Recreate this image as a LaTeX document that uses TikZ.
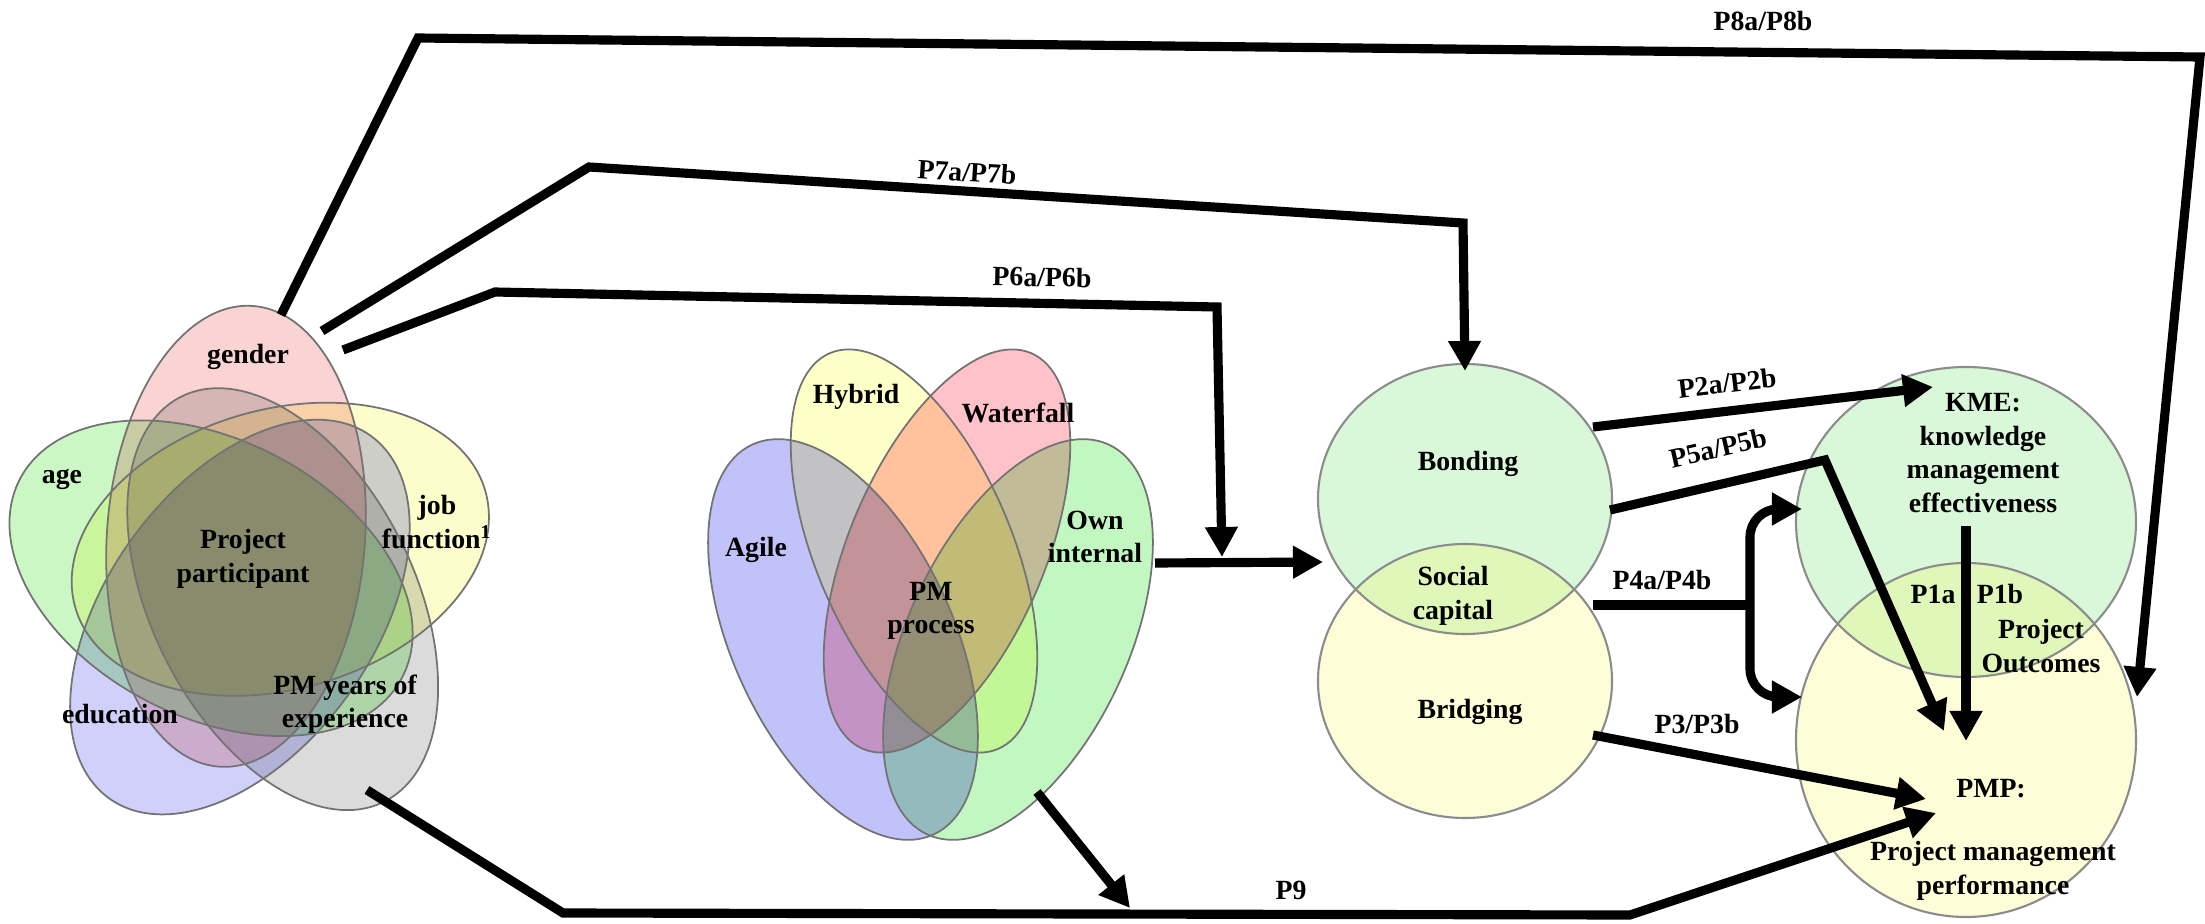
\documentclass[tikz,border=0pt]{standalone}
\usepackage{fontspec}
\setmainfont{Liberation Serif}
\usetikzlibrary{arrows.meta}

\definecolor{genderc}{HTML}{FAD3D3}
\definecolor{agec}{HTML}{CBF7C4}
\definecolor{educ}{HTML}{D0D0FA}
\definecolor{pmyc}{HTML}{DBDBDB}
\definecolor{jobc}{HTML}{FDFDCC}
\definecolor{agilec}{HTML}{C2C2FA}
\definecolor{hybridc}{HTML}{FFFFC8}
\definecolor{waterc}{HTML}{FFC2C8}
\definecolor{ownc}{HTML}{C2F7C2}
\definecolor{greenc}{HTML}{D9F8D9}
\definecolor{yellowc}{HTML}{FDFDD8}
\definecolor{lensc}{HTML}{DFF7B9}

\tikzset{
  link/.style={line width=2.6pt, line join=miter},
  arr/.style={link, -{Triangle[length=0.3cm,width=0.31cm]}},
  lbl/.style={font=\fontsize{7.9}{9.5}\selectfont\bfseries, align=center, inner sep=0pt},
  rim/.style={draw=black!55, line width=0.5pt},
  ring/.style={draw=black!45, line width=0.6pt}
}

\begin{document}
\begin{tikzpicture}[x=0.01cm, y=0.01cm]
  \useasboundingbox (0,0) rectangle (2205,923);

  % project participant
  \begin{scope}[shift={(250,347)}, yscale=1.09]
    \begin{scope}[blend mode=multiply]
      \foreach \ang/\col in {85/genderc, 157/agec, 229/educ, 301/pmyc, 13/jobc}
        \fill[\col, shift={({\ang+26}:39)}, rotate=\ang] (0,0) ellipse [x radius=212, y radius=129];
    \end{scope}
    \foreach \ang in {85, 157, 229, 301, 13}
      \draw[rim, shift={({\ang+26}:39)}, rotate=\ang] (0,0) ellipse [x radius=212, y radius=129];
  \end{scope}

  % PM process
  \begin{scope}[blend mode=multiply]
    \foreach \cx/\cy/\ang/\ra/\rb/\col in {843/283.5/115/215/110/agilec, 1018/283.5/65/215/110/ownc,
        914/372/113/215/98/hybridc, 947/372/67/215/98/waterc}
      \fill[\col, shift={(\cx,\cy)}, rotate=\ang] (0,0) ellipse [x radius=\ra, y radius=\rb];
  \end{scope}
  \foreach \cx/\cy/\ang/\ra/\rb in {843/283.5/115/215/110, 1018/283.5/65/215/110,
      914/372/113/215/98, 947/372/67/215/98}
    \draw[rim, shift={(\cx,\cy)}, rotate=\ang] (0,0) ellipse [x radius=\ra, y radius=\rb];

  % social capital
  \fill[greenc] (1465,424) ellipse [x radius=147, y radius=135];
  \fill[yellowc] (1465,242) ellipse [x radius=147, y radius=137];
  \begin{scope}
    \clip (1465,424) ellipse [x radius=147, y radius=135];
    \fill[lensc] (1465,242) ellipse [x radius=147, y radius=137];
  \end{scope}
  \draw[ring] (1465,424) ellipse [x radius=147, y radius=135];
  \draw[ring] (1465,242) ellipse [x radius=147, y radius=137];

  % project outcomes
  \fill[greenc] (1966,401) ellipse [x radius=170, y radius=155];
  \fill[yellowc] (1966,183) ellipse [x radius=170, y radius=177];
  \begin{scope}
    \clip (1966,401) ellipse [x radius=170, y radius=155];
    \fill[lensc] (1966,183) ellipse [x radius=170, y radius=177];
  \end{scope}
  \draw[ring] (1966,401) ellipse [x radius=170, y radius=155];
  \draw[ring] (1966,183) ellipse [x radius=170, y radius=177];

  \node[lbl] (gender) at (248,566) {gender};
  \node[lbl] (age) at (62,444) {age};
  \node[lbl] (job) at (437,401) {job\\function\textsuperscript{1}};
  \node[lbl] (participant) at (243,364) {Project\\participant};
  \node[lbl] (education) at (120,209) {education};
  \node[lbl] (pmyears) at (345,219) {PM years of\\experience};
  \node[lbl] (hybrid) at (856,526) {Hybrid};
  \node[lbl] (waterfall) at (1018,510) {Waterfall};
  \node[lbl] (agile) at (756,373) {Agile};
  \node[lbl] (own) at (1095,386) {Own\\internal};
  \node[lbl] (pmproc) at (931,312) {PM\\process};
  \node[lbl] (bonding) at (1468,459) {Bonding};
  \node[lbl] (social) at (1453,327) {Social\\capital};
  \node[lbl] (bridging) at (1470,211) {Bridging};
  \node[lbl] (kme) at (1983,470) {KME:\\knowledge\\management\\effectiveness};
  \node[lbl] (p1a) at (1933,329) {P1a};
  \node[lbl] (p1b) at (2000,329) {P1b};
  \node[lbl] (outcomes) at (2041,277) {Project\\Outcomes};
  \node[lbl] (pmp) at (1991,134) {PMP:};
  \node[lbl] (pmperf) at (1993,52) {Project management\\performance};

  \coordinate (gen8) at (281,608);
  \coordinate (k8a) at (418,885);
  \coordinate (k8b) at (2200,866);
  \coordinate (pmp8) at (2137,226);
  \coordinate (gen7) at (322,592);
  \coordinate (k7a) at (589,756);
  \coordinate (k7b) at (1463,700);
  \coordinate (bond7) at (1465,552);
  \coordinate (gen6) at (343,573);
  \coordinate (k6a) at (495,631);
  \coordinate (k6b) at (1217,616);
  \coordinate (join6) at (1222,366);
  \coordinate (ownout) at (1155,360);
  \coordinate (scin) at (1323,361);
  \coordinate (bond2) at (1593,496);
  \coordinate (kme2) at (1933,536);
  \coordinate (bond5) at (1610,413);
  \coordinate (k5) at (1825,463);
  \coordinate (pmp5) at (1944,192);
  \coordinate (sc4) at (1593,318);
  \coordinate (fork) at (1750,318);
  \coordinate (kme4) at (1802,414);
  \coordinate (pmp4) at (1802,226);
  \coordinate (brid3) at (1593,188);
  \coordinate (pmp3) at (1926,124);
  \coordinate (kme1) at (1966,397);
  \coordinate (pmp1) at (1966,182);
  \coordinate (yrs9) at (367,133);
  \coordinate (k9a) at (563,10);
  \coordinate (k9b) at (1630,8);
  \coordinate (pmp9) at (1936,110);
  \coordinate (proc9) at (1037,131);
  \coordinate (join9) at (1130,15);

  \draw[arr] (gen8) -- (k8a) -- (k8b) -- (pmp8);
  \draw[arr] (gen7) -- (k7a) -- (k7b) -- (bond7);
  \draw[arr] (gen6) -- (k6a) -- (k6b) -- (join6);
  \draw[arr] (ownout) -- (scin);
  \draw[arr] (bond2) -- (kme2);
  \draw[arr] (bond5) -- (k5) -- (pmp5);
  \draw[link] (sc4) -- (fork);
  \draw[arr, rounded corners=8] (fork) |- (kme4);
  \draw[arr, rounded corners=8] (fork) |- (pmp4);
  \draw[arr] (brid3) -- (pmp3);
  \draw[arr] (kme1) -- (pmp1);
  \draw[arr] (yrs9) -- (k9a) -- (k9b) -- (pmp9);
  \draw[arr] (proc9) -- (join9);

  \node[lbl] (l8) at (1763,902) {P8a/P8b};
  \node[lbl, rotate=-3.7] (l7) at (967,751) {P7a/P7b};
  \node[lbl, rotate=-1] (l6) at (1042,646) {P6a/P6b};
  \node[lbl, rotate=6.7] (l2) at (1727,540) {P2a/P2b};
  \node[lbl, rotate=13] (l5) at (1718,475) {P5a/P5b};
  \node[lbl] (l4) at (1662,343) {P4a/P4b};
  \node[lbl] (l3) at (1697,199) {P3/P3b};
  \node[lbl] (l9) at (1291,33) {P9};
\end{tikzpicture}
\end{document}
